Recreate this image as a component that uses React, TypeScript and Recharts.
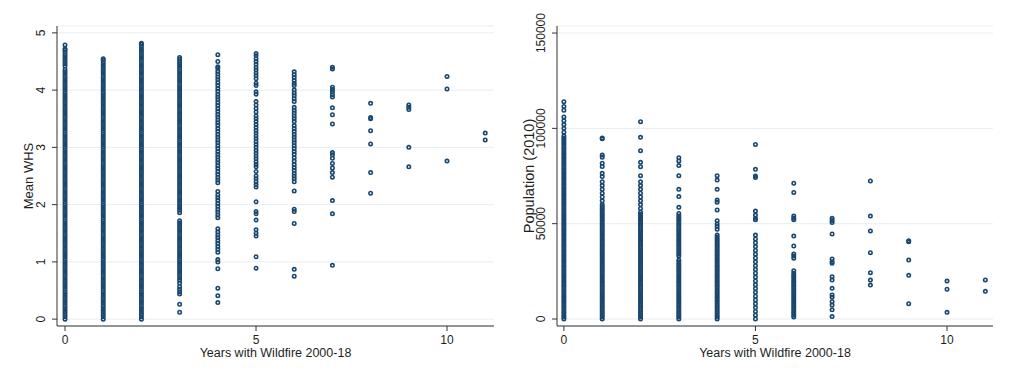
import { ScatterChart, Scatter, XAxis, YAxis, CartesianGrid, Label } from 'recharts';

// x categories: number of years with wildfire
const years = [0, 1, 2, 3, 4, 5, 6, 7, 8, 9, 10, 11];

// Mean WHS, one array per year count (cols 0-3 hold thousands of counties, so they are packed tight)
const whs0 = [
  0, 0.04, 0.08, 0.12, 0.16, 0.2, 0.24, 0.28, 0.32, 0.36, 0.4, 0.44, 0.48, 0.52, 0.56, 0.6, 0.64, 0.68, 0.72, 0.76, 0.8, 0.84, 0.88, 0.92, 0.96,
  1, 1.04, 1.08, 1.12, 1.16, 1.2, 1.24, 1.28, 1.32, 1.36, 1.4, 1.44, 1.48, 1.52, 1.56, 1.6, 1.64, 1.68, 1.72, 1.76, 1.8, 1.84, 1.88, 1.92, 1.96,
  2, 2.04, 2.08, 2.12, 2.16, 2.2, 2.24, 2.28, 2.32, 2.36, 2.4, 2.44, 2.48, 2.52, 2.56, 2.6, 2.64, 2.68, 2.72, 2.76, 2.8, 2.84, 2.88, 2.92, 2.96,
  3, 3.04, 3.08, 3.12, 3.16, 3.2, 3.24, 3.28, 3.32, 3.36, 3.4, 3.44, 3.48, 3.52, 3.56, 3.6, 3.64, 3.68, 3.72, 3.76, 3.8, 3.84, 3.88, 3.92, 3.96,
  4, 4.04, 4.08, 4.12, 4.16, 4.2, 4.24, 4.28, 4.32, 4.36, 4.42, 4.46, 4.5, 4.54, 4.58, 4.62, 4.66, 4.7, 4.72, 4.79,
];
const whs1 = [
  0, 0.04, 0.08, 0.12, 0.16, 0.2, 0.24, 0.28, 0.32, 0.36, 0.4, 0.44, 0.48, 0.52, 0.56, 0.6, 0.64, 0.68, 0.72, 0.76, 0.8, 0.84, 0.88, 0.92, 0.96,
  1, 1.04, 1.08, 1.12, 1.16, 1.2, 1.24, 1.28, 1.32, 1.36, 1.4, 1.44, 1.48, 1.52, 1.56, 1.6, 1.64, 1.68, 1.72, 1.76, 1.8, 1.84, 1.88, 1.92, 1.96,
  2, 2.04, 2.08, 2.12, 2.16, 2.2, 2.24, 2.28, 2.32, 2.36, 2.4, 2.44, 2.48, 2.52, 2.56, 2.6, 2.64, 2.68, 2.72, 2.76, 2.8, 2.84, 2.88, 2.92, 2.96,
  3, 3.04, 3.08, 3.12, 3.16, 3.2, 3.24, 3.28, 3.32, 3.36, 3.4, 3.44, 3.48, 3.52, 3.56, 3.6, 3.64, 3.68, 3.72, 3.76, 3.8, 3.84, 3.88, 3.92, 3.96,
  4, 4.04, 4.08, 4.12, 4.16, 4.2, 4.24, 4.28, 4.32, 4.36, 4.4, 4.44, 4.48, 4.52, 4.55,
];
const whs2 = [
  0, 0.04, 0.08, 0.12, 0.16, 0.2, 0.24, 0.28, 0.32, 0.36, 0.4, 0.44, 0.48, 0.52, 0.56, 0.6, 0.64, 0.68, 0.72, 0.76, 0.8, 0.84, 0.88, 0.92, 0.96,
  1, 1.04, 1.08, 1.12, 1.16, 1.2, 1.24, 1.28, 1.32, 1.36, 1.4, 1.44, 1.48, 1.52, 1.56, 1.6, 1.64, 1.68, 1.72, 1.76, 1.8, 1.84, 1.88, 1.92, 1.96,
  2, 2.04, 2.08, 2.12, 2.16, 2.2, 2.24, 2.28, 2.32, 2.36, 2.4, 2.44, 2.48, 2.52, 2.56, 2.6, 2.64, 2.68, 2.72, 2.76, 2.8, 2.84, 2.88, 2.92, 2.96,
  3, 3.04, 3.08, 3.12, 3.16, 3.2, 3.24, 3.28, 3.32, 3.36, 3.4, 3.44, 3.48, 3.52, 3.56, 3.6, 3.64, 3.68, 3.72, 3.76, 3.8, 3.84, 3.88, 3.92, 3.96,
  4, 4.04, 4.08, 4.12, 4.16, 4.2, 4.24, 4.28, 4.32, 4.36, 4.4, 4.44, 4.48, 4.52, 4.56, 4.6, 4.64, 4.68, 4.72, 4.76, 4.8, 4.82,
];
const whs3 = [
  0.12, 0.26, 0.44, 0.48, 0.52, 0.57, 0.63, 0.68, 0.72, 0.76,
  0.8, 0.84, 0.88, 0.92, 0.96, 1, 1.04, 1.08, 1.12, 1.16, 1.2, 1.24, 1.28, 1.32, 1.36, 1.4, 1.44, 1.48, 1.52, 1.56, 1.6, 1.64, 1.68, 1.72,
  1.86, 1.9, 1.94, 1.98, 2.02, 2.06, 2.1, 2.14, 2.18, 2.22, 2.26, 2.3, 2.34, 2.38, 2.42, 2.46, 2.5, 2.54, 2.58, 2.62, 2.66, 2.7, 2.74, 2.78, 2.82, 2.86, 2.9, 2.94, 2.98,
  3.02, 3.06, 3.1, 3.14, 3.18, 3.22, 3.26, 3.3, 3.34, 3.38, 3.42, 3.46, 3.5, 3.54, 3.58, 3.62, 3.66, 3.7, 3.74, 3.78, 3.82, 3.86, 3.9, 3.94, 3.98,
  4.02, 4.06, 4.1, 4.14, 4.18, 4.22, 4.26, 4.3, 4.34, 4.38, 4.42, 4.46, 4.5, 4.54, 4.57,
];
const whs4 = [0.29, 0.41, 0.54, 0.88, 1, 1.04, 1.17, 1.22, 1.27, 1.32, 1.37, 1.42, 1.47, 1.52, 1.58, 1.77, 1.82, 1.87, 1.92, 1.97, 2.02, 2.07, 2.12, 2.17, 2.23, 2.38, 2.43, 2.48, 2.53, 2.58, 2.63, 2.68, 2.73, 2.78, 2.83, 2.88, 2.93, 2.98, 3.03, 3.08, 3.13, 3.18, 3.23, 3.28, 3.33, 3.38, 3.43, 3.48, 3.53, 3.58, 3.63, 3.68, 3.73, 3.78, 3.83, 3.88, 3.93, 3.98, 4.03, 4.08, 4.13, 4.18, 4.23, 4.28, 4.33, 4.38, 4.41, 4.5, 4.62];
const whs5 = [0.89, 1.09, 1.45, 1.5, 1.56, 1.73, 1.84, 1.88, 2.05, 2.31, 2.35, 2.4, 2.45, 2.5, 2.58, 2.66, 2.7, 2.75, 2.8, 2.85, 2.9, 2.95, 3, 3.05, 3.1, 3.15, 3.2, 3.25, 3.3, 3.35, 3.4, 3.45, 3.5, 3.55, 3.62, 3.68, 3.74, 3.8, 3.93, 3.97, 4.08, 4.12, 4.2, 4.25, 4.3, 4.35, 4.4, 4.45, 4.5, 4.55, 4.6, 4.64];
const whs6 = [0.75, 0.87, 1.67, 1.88, 1.92, 2.24, 2.4, 2.45, 2.5, 2.55, 2.6, 2.65, 2.7, 2.76, 2.82, 2.88, 2.93, 2.98, 3.03, 3.08, 3.13, 3.18, 3.23, 3.28, 3.33, 3.38, 3.45, 3.5, 3.55, 3.6, 3.65, 3.7, 3.8, 3.85, 3.9, 3.95, 4, 4.08, 4.12, 4.17, 4.22, 4.27, 4.32];
const whs7 = [0.94, 1.84, 2.07, 2.48, 2.56, 2.64, 2.72, 2.81, 2.87, 2.91, 3.41, 3.57, 3.69, 3.88, 3.92, 3.97, 4.01, 4.05, 4.37, 4.4];
const whs8 = [2.2, 2.56, 3.06, 3.29, 3.5, 3.52, 3.77];
const whs9 = [2.66, 3, 3.66, 3.7, 3.74];
const whs10 = [2.76, 4.02, 4.24];
const whs11 = [3.13, 3.25];

// Population (2010), one array per year count
const pop0 = [
  0, 1000, 2000, 3000, 4000, 5000, 6000, 7000, 8000, 9000, 10000, 11000, 12000, 13000, 14000, 15000, 16000, 17000, 18000, 19000,
  20000, 21000, 22000, 23000, 24000, 25000, 26000, 27000, 28000, 29000, 30000, 31000, 32000, 33000, 34000, 35000, 36000, 37000, 38000, 39000,
  40000, 41000, 42000, 43000, 44000, 45000, 46000, 47000, 48000, 49000, 50000, 51000, 52000, 53000, 54000, 55000, 56000, 57000, 58000, 59000,
  60000, 61000, 62000, 63000, 64000, 65000, 66000, 67000, 68000, 69000, 70000, 71000, 72000, 73000, 74000, 75000, 76000, 77000, 78000, 79000,
  80000, 81000, 82000, 83000, 84000, 85000, 86000, 87000, 88000, 89000, 90000, 91000, 92000, 93000, 94000, 95000, 96000,
  98000, 100000, 102000, 104000, 106000, 109500, 111500, 114000,
];
const pop1 = [
  0, 1000, 2000, 3000, 4000, 5000, 6000, 7000, 8000, 9000, 10000, 11000, 12000, 13000, 14000, 15000, 16000, 17000, 18000, 19000,
  20000, 21000, 22000, 23000, 24000, 25000, 26000, 27000, 28000, 29000, 30000, 31000, 32000, 33000, 34000, 35000, 36000, 37000, 38000, 39000,
  40000, 41000, 42000, 43000, 44000, 45000, 46000, 47000, 48000, 49000, 50000, 51000, 52000, 53000, 54000, 55000, 56000, 57000, 58000, 59000,
  60000, 62000, 64000, 66000, 68000, 70000, 72000, 74700, 76400, 80000, 81700, 84800, 86000, 94500, 95000,
];
const pop2 = [
  0, 1000, 2000, 3000, 4000, 5000, 6000, 7000, 8000, 9000, 10000, 11000, 12000, 13000, 14000, 15000, 16000, 17000, 18000, 19000,
  20000, 21000, 22000, 23000, 24000, 25000, 26000, 27000, 28000, 29000, 30000, 31000, 32000, 33000, 34000, 35000, 36000, 37000, 38000, 39000,
  40000, 41000, 42000, 43000, 44000, 45000, 46000, 47000, 48000, 49000, 50000, 51000, 52000, 53000, 54000, 55000, 56000,
  58000, 60000, 62000, 64000, 66000, 68000, 70000, 72000, 75200, 79900, 82200, 88300, 95300, 103500,
];
const pop3 = [
  0, 1000, 2000, 3000, 4000, 5000, 6000, 7000, 8000, 9000, 10000, 11000, 12000, 13000, 14000, 15000, 16000, 17000, 18000, 19000,
  20000, 21000, 22000, 23000, 24000, 25000, 26000, 27000, 28000, 29000, 30000, 31000,
  33000, 34000, 35000, 36000, 37000, 38000, 39000, 40000, 41000, 42000, 43000, 44000, 45000, 46000, 47000, 48000, 49000, 50000,
  51000, 52000, 53000, 54000, 55400, 58600, 64200, 68000, 75200, 80500, 82900, 84600,
];
const pop4 = [
  0, 1000, 2000, 3000, 4000, 5000, 6000, 7000, 8000, 9000, 10000, 11000, 12000, 13000, 14000, 15000, 16000, 17000, 18000, 19000,
  20000, 21000, 22000, 23000, 24000, 25000, 26000, 27000, 28000, 29000, 30000, 31000, 32000, 33000, 34000, 35000, 36000, 37000, 38000, 39000,
  40000, 41000, 42000, 43000, 44000, 47100, 48500, 49800, 51600, 57200, 61200, 62400, 68000, 72900, 75200,
];
const pop5 = [0, 2000, 4000, 6000, 8000, 10000, 12000, 14000, 16000, 18000, 20000, 22000, 24000, 26000, 28000, 30000, 32000, 34000, 36000, 38000, 40000, 42000, 44000, 52000, 52800, 54500, 56600, 74200, 75000, 78500, 91600];
const pop6 = [1000, 2000, 3000, 4000, 5000, 6000, 7000, 8000, 9000, 10000, 11000, 12000, 13000, 14000, 15000, 16000, 17000, 18000, 19000, 20000, 21000, 22000, 23000, 24000, 25300, 31900, 33000, 34100, 38300, 43500, 52000, 52800, 54000, 66400, 71200];
const pop7 = [1300, 4800, 7300, 9100, 11400, 12600, 16100, 20400, 22200, 29200, 30000, 31500, 44600, 50600, 51700, 52800];
const pop8 = [17800, 20400, 24300, 34800, 46200, 54000, 72400];
const pop9 = [8000, 22900, 30900, 40500, 41000];
const pop10 = [3500, 15600, 19900];
const pop11 = [14500, 20500];

const whsCols = [whs0, whs1, whs2, whs3, whs4, whs5, whs6, whs7, whs8, whs9, whs10, whs11];
const popCols = [pop0, pop1, pop2, pop3, pop4, pop5, pop6, pop7, pop8, pop9, pop10, pop11];

const xTicks = [0, 5, 10];
const whsTicks = [0, 1, 2, 3, 4, 5];
const popTicks = [0, 50000, 100000, 150000];

const NAVY = '#1a476f';
const INK = '#1e1e1e';
const FONT = '"Liberation Sans", Arial, Helvetica, sans-serif';

const toPoints = (cols: number[][]) =>
  cols.flatMap((col, i) => col.map((v) => ({ x: years[i], y: v })));

function VerticalTick(props: any) {
  const { x, y, payload } = props;
  return (
    <text
      x={x}
      y={y}
      dy="0.355em"
      textAnchor="middle"
      transform={`rotate(-90 ${x} ${y})`}
      fontSize={12}
      fontFamily={FONT}
      fill={INK}
    >
      {payload.value}
    </text>
  );
}

interface PanelProps {
  width: number;
  marginRight: number;
  data: { x: number; y: number }[];
  xDomain: [number, number];
  yDomain: [number, number];
  yTicks: number[];
  yLabel: string;
  yLabelSize: number;
}

function Panel({ width, marginRight, data, xDomain, yDomain, yTicks, yLabel, yLabelSize }: PanelProps) {
  return (
    <ScatterChart width={width} height={371} margin={{ top: 26, right: marginRight, bottom: 0, left: 0 }}>
      <CartesianGrid vertical={false} stroke="#e8eef1" strokeWidth={1} />
      <XAxis
        type="number"
        dataKey="x"
        domain={xDomain}
        ticks={xTicks}
        allowDataOverflow
        interval={0}
        height={45}
        stroke="#333"
        tickSize={5}
        tickMargin={4}
        tick={{ fontSize: 12, fill: INK, fontFamily: FONT }}
      >
        <Label
          value="Years with Wildfire 2000-18"
          position="insideBottom"
          offset={14}
          fontSize={12.5}
          fontFamily={FONT}
          fill={INK}
        />
      </XAxis>
      <YAxis
        type="number"
        dataKey="y"
        domain={yDomain}
        ticks={yTicks}
        allowDataOverflow
        interval={0}
        width={57}
        stroke="#333"
        tickSize={5}
        tickMargin={11}
        tick={<VerticalTick />}
      >
        <Label
          value={yLabel}
          angle={-90}
          position="center"
          fontSize={yLabelSize}
          fontFamily={FONT}
          fill={INK}
        />
      </YAxis>
      <Scatter
        data={data}
        isAnimationActive={false}
        shape={(p: any) => (
          <circle cx={p.cx} cy={p.cy} r={1.7} fill="none" stroke={NAVY} strokeWidth={1.6} />
        )}
      />
    </ScatterChart>
  );
}

export default function App() {
  return (
    <div style={{ position: 'absolute', left: 0, top: 0, width: 1020, height: 371, background: '#fff', display: 'flex' }}>
      <Panel
        width={500}
        marginRight={6}
        data={toPoints(whsCols)}
        xDomain={[-0.21, 11.23]}
        yDomain={[-0.12, 5.12]}
        yTicks={whsTicks}
        yLabel="Mean WHS"
        yLabelSize={13}
      />
      <Panel
        width={520}
        marginRight={27}
        data={toPoints(popCols)}
        xDomain={[-0.18, 11.2]}
        yDomain={[-3670, 153700]}
        yTicks={popTicks}
        yLabel="Population (2010)"
        yLabelSize={14.5}
      />
    </div>
  );
}
